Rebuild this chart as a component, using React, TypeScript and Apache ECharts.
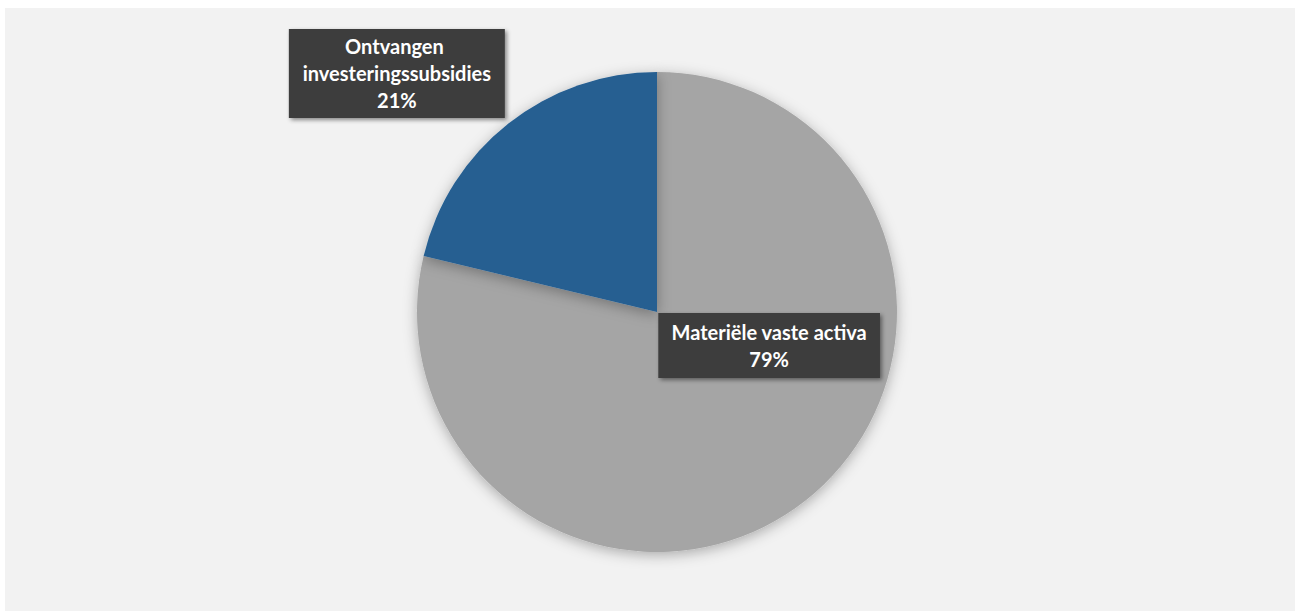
import React, { useEffect, useRef } from "react";
import * as echarts from "echarts";

const categories = ["Materiële vaste activa", "Ontvangen investeringssubsidies"];
const values = [78.75, 21.25];
const colors = ["#a5a5a5", "#255e91"];

export default function App() {
  const ref = useRef<HTMLDivElement>(null);
  useEffect(() => {
    if (!ref.current) return;
    const chart = echarts.init(ref.current, undefined, { renderer: "svg" });
    const labelBase = {
      show: true,
      position: "inside",
      color: "#ffffff",
      fontFamily: "Lato, 'Open Sans', sans-serif",
      fontWeight: "bold",
      fontSize: 20,
      lineHeight: 27,
      align: "center",
      backgroundColor: "#3d3d3d",
      shadowColor: "rgba(0,0,0,0.45)",
      shadowBlur: 4,
      shadowOffsetX: 2,
      shadowOffsetY: 2,
      formatter: (p: any) => `${p.name}\n${Math.round(p.percent)}%`,
    };
    chart.setOption({
      animation: false,
      backgroundColor: "#ffffff",
      graphic: [
        {
          type: "rect",
          z: 0,
          silent: true,
          shape: { x: 5, y: 8, width: 1290, height: 603 },
          style: { fill: "#f2f2f2" },
        },
      ],
      series: [
        {
          type: "pie",
          z: 2,
          center: [657, 312],
          radius: [0, 240],
          startAngle: 90,
          clockwise: true,
          labelLine: { show: false },
          itemStyle: {
            shadowColor: "rgba(0,0,0,0.3)",
            shadowBlur: 14,
            shadowOffsetY: 3,
          },
          emphasis: { disabled: true },
          data: categories.map((name, i) => ({
            name,
            value: values[i],
            itemStyle: { color: colors[i] },
            label:
              i === 0
                ? { ...labelBase, padding: [5, 13, 6, 13], offset: [36, -63] }
                : {
                    ...labelBase,
                    width: 202,
                    overflow: "break",
                    padding: [4, 7, 4, 7],
                    offset: [-184, -142],
                  },
          })),
        },
      ],
    });
    return () => chart.dispose();
  }, []);
  return (
    <div
      ref={ref}
      style={{ position: "absolute", left: 0, top: 0, width: 1301, height: 611 }}
    />
  );
}
